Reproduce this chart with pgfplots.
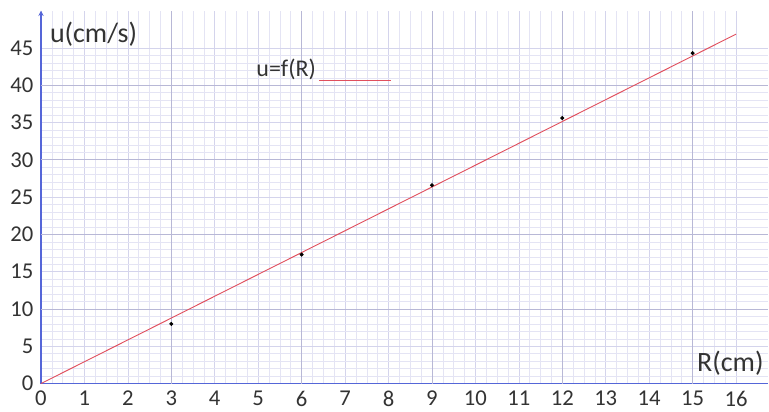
\documentclass[border=0pt]{standalone}
\usepackage{fontspec}
\setmainfont{Carlito}
\usepackage{pgfplots}
\pgfplotsset{compat=1.18}
\usetikzlibrary{arrows.meta}
\definecolor{axblue}{HTML}{5566D8}
\definecolor{gridminor}{HTML}{E4E4F4}
\definecolor{gridmajor}{HTML}{D4D4EC}
\definecolor{griddark}{HTML}{B8B8D6}
\definecolor{fitred}{HTML}{E0505E}
\begin{document}
\begin{tikzpicture}
\begin{axis}[
  scale only axis,
  width=546pt, height=280pt,
  xmin=0, xmax=16.74, ymin=0, ymax=50,
  axis lines=left,
  x axis line style={-, axblue, line width=1.2pt},
  y axis line style={-{Stealth[length=4pt,width=4pt]}, axblue, line width=1.2pt},
  xtick={0,1,...,16}, ytick={0,5,...,45},
  minor x tick num=3, minor y tick num=4,
  grid=both,
  minor grid style={gridminor, line width=0.4pt},
  major grid style={gridmajor, line width=0.5pt},
  extra x ticks={3,6,9,12,15}, extra x tick labels={},
  extra y ticks={10,20,30,40}, extra y tick labels={},
  extra tick style={grid=major, major grid style={griddark, line width=0.5pt}, tick style={draw=none}},
  tick style={draw=none},
  ticklabel style={font=\fontsize{17}{18}\selectfont, text=black!80},
  /pgf/number format/assume math mode=true,
  xticklabel style={yshift=0pt},
  yticklabel style={xshift=0pt},
  legend plot pos=right,
  legend style={at={(axis cs:4.8,42.2)}, anchor=west, draw=none, fill=none,
    font=\fontsize{18}{20}\selectfont, text=black!80},
  clip=false,
]
\addplot[fitred, line width=0.7pt,
  legend image code/.code={\draw[fitred, line width=1pt] (0.15cm,-0.3cm) -- (2.05cm,-0.3cm);}]
  coordinates {(0,0) (16,46.85)};
\addlegendentry{u=f(R)}
\addplot[only marks, mark=*, mark size=1.3pt, black, forget plot]
  coordinates {(3,8.0) (6,17.3) (9,26.6) (12,35.6) (15,44.3)};
\node[anchor=west, font=\fontsize{21}{24}\selectfont, text=black!80] at (axis cs:0.1,46.8) {u(cm/s)};
\node[anchor=south east, font=\fontsize{21}{24}\selectfont, text=black!80] at (axis cs:16.74,0.5) {R(cm)};
\path (rel axis cs:0,1) ++(0,8pt);
\path (rel axis cs:0,0) ++(-30.75pt,-21pt);
\end{axis}
\end{tikzpicture}
\end{document}
